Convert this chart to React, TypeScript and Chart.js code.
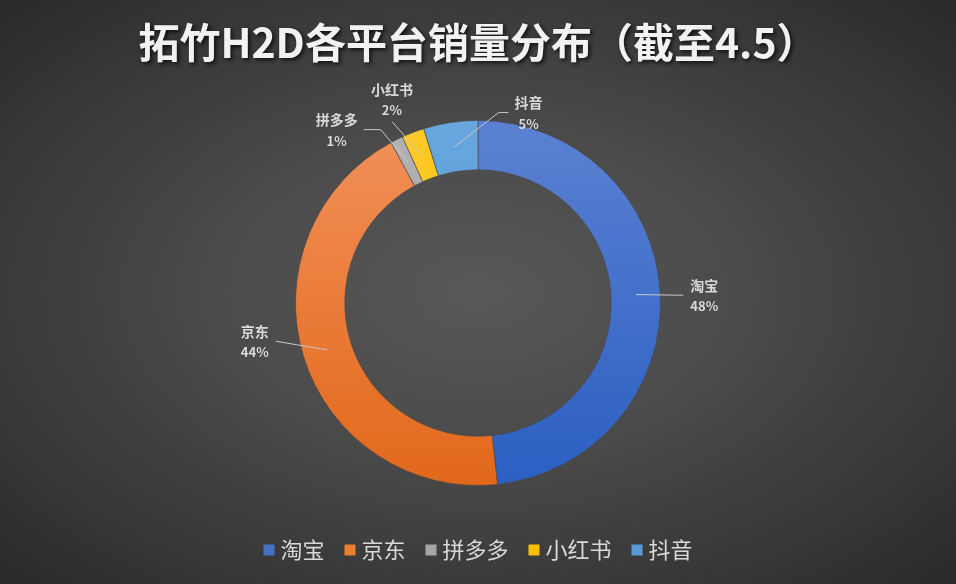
import { useEffect, useRef } from "react";
import { Chart, registerables } from "chart.js";

Chart.register(...registerables);

// 数据
const platforms: string[] = ["淘宝", "京东", "拼多多", "小红书", "抖音"];
const shares: number[] = [48.3, 43.8, 1.1, 2.0, 4.8];
const shareLabels: string[] = ["48%", "44%", "1%", "2%", "5%"];

const titleText = "拓竹H2D各平台销量分布（截至4.5）";

// 颜色：上浅下深的渐变 + 图例用纯色
const colorTop = ["#5b81d2", "#f2915a", "#b3b3b3", "#ffca2a", "#68a7de"];
const colorBottom = ["#2b5fc2", "#e2681a", "#9a9a9a", "#f0b400", "#4a8fd0"];
const legendColors = ["#4472c4", "#ed7d31", "#a5a5a5", "#ffc000", "#5b9bd5"];

// 数据标签相对于扇区外缘中点的偏移，以及引导线接在标签哪一侧
const labelOffsets: [number, number][] = [[44, 2], [-49, -16], [-60, -10], [-21, -33], [78, -10]];
const labelSides: string[] = ["left", "right", "right", "bottom", "left"];
const elbowLengths: number[] = [0, 0, 17, 0, 10];

const FONT = "'Noto Sans CJK SC', 'Noto Sans', sans-serif";

const titlePlugin = {
    id: "shadowTitle",
    afterDraw(chart: Chart) {
        const ctx = chart.ctx;
        ctx.save();
        ctx.font = `bold 41px ${FONT}`;
        ctx.textAlign = "center";
        ctx.textBaseline = "middle";
        ctx.shadowColor = "rgba(0,0,0,0.75)";
        ctx.shadowBlur = 4;
        ctx.shadowOffsetX = 2;
        ctx.shadowOffsetY = 2;
        ctx.fillStyle = "#f2f2f2";
        ctx.fillText(titleText, chart.width / 2, 42);
        ctx.restore();
    },
};

// 底部图例：小方块 + 文字，整体居中
const legendPlugin = {
    id: "bottomLegend",
    afterDraw(chart: Chart) {
        const ctx = chart.ctx;
        const box = 11;
        const gap = 6;
        const spacing = 20;
        const y = 550;
        ctx.save();
        ctx.font = `22px ${FONT}`;
        const widths = platforms.map((p) => ctx.measureText(p).width);
        const total = widths.reduce((s, w) => s + box + gap + w, 0) + spacing * (platforms.length - 1);
        let x = (chart.width - total) / 2;
        ctx.textBaseline = "middle";
        ctx.textAlign = "left";
        platforms.forEach((p, i) => {
            ctx.fillStyle = legendColors[i];
            ctx.fillRect(x, y - box / 2, box, box);
            x += box + gap;
            ctx.fillStyle = "#d9d9d9";
            ctx.fillText(p, x, y);
            x += widths[i] + spacing;
        });
        ctx.restore();
    },
};

const labelPlugin = {
    id: "leaderLabels",
    afterDatasetsDraw(chart: Chart) {
        const ctx = chart.ctx;
        const arcs = chart.getDatasetMeta(0).data as any[];
        ctx.save();
        arcs.forEach((arc, i) => {
            const { x, y, innerRadius, outerRadius, startAngle, endAngle } = arc.getProps(
                ["x", "y", "innerRadius", "outerRadius", "startAngle", "endAngle"],
                true
            );
            const mid = (startAngle + endAngle) / 2;
            const midR = (innerRadius + outerRadius) / 2;
            const sx = x + Math.cos(mid) * midR;
            const sy = y + Math.sin(mid) * midR;
            const ox = x + Math.cos(mid) * outerRadius;
            const oy = y + Math.sin(mid) * outerRadius;
            const cx = ox + labelOffsets[i][0];
            const cy = oy + labelOffsets[i][1];

            ctx.font = `bold 14px ${FONT}`;
            const w = Math.max(ctx.measureText(platforms[i]).width, ctx.measureText(shareLabels[i]).width);

            let ex = cx;
            let ey = cy;
            if (labelSides[i] === "left") ex = cx - w / 2 - 6;
            else if (labelSides[i] === "right") ex = cx + w / 2 + 6;
            else ey = cy + 22;

            const dir = labelSides[i] === "left" ? -1 : 1;
            ctx.strokeStyle = "#c8c8c8";
            ctx.lineWidth = 1;
            ctx.beginPath();
            ctx.moveTo(sx, sy);
            if (elbowLengths[i] > 0) {
                ctx.lineTo(ex + dir * elbowLengths[i], ey);
            }
            ctx.lineTo(ex, ey);
            ctx.stroke();

            ctx.fillStyle = "#d9d9d9";
            ctx.textAlign = "center";
            ctx.textBaseline = "middle";
            ctx.font = `bold 14px ${FONT}`;
            ctx.fillText(platforms[i], cx, cy - 10);
            ctx.font = `bold 13px ${FONT}`;
            ctx.fillText(shareLabels[i], cx, cy + 11);
        });
        ctx.restore();
    },
};

export default function App() {
    const canvasRef = useRef<HTMLCanvasElement | null>(null);

    useEffect(() => {
        document.body.style.margin = "0";
        const canvas = canvasRef.current;
        if (!canvas) return;

        const chart = new Chart(canvas, {
            type: "doughnut",
            data: {
                labels: platforms,
                datasets: [
                    {
                        data: shares,
                        backgroundColor: (c: any) => {
                            const area = c.chart.chartArea;
                            const i = c.dataIndex;
                            if (!area || i === undefined) return legendColors[i ?? 0];
                            const g = c.chart.ctx.createLinearGradient(0, area.top, 0, area.bottom);
                            g.addColorStop(0, colorTop[i]);
                            g.addColorStop(1, colorBottom[i]);
                            return g;
                        },
                        borderColor: "rgba(70,70,70,0.6)",
                        borderWidth: 1,
                    },
                ],
            },
            options: {
                responsive: false,
                animation: false,
                cutout: "73%",
                layout: { padding: { top: 120, bottom: 98 } },
                plugins: {
                    title: { display: false },
                    tooltip: { enabled: false },
                    legend: { display: false },
                },
            },
            plugins: [labelPlugin, titlePlugin, legendPlugin],
        });

        return () => chart.destroy();
    }, []);

    return (
        <div
            style={{
                width: 956,
                height: 584,
                background: "radial-gradient(ellipse at 50% 50%, #585858 0%, #4a4a4a 40%, #2a2a2a 100%)",
            }}
        >
            <canvas ref={canvasRef} width={956} height={584} />
        </div>
    );
}
